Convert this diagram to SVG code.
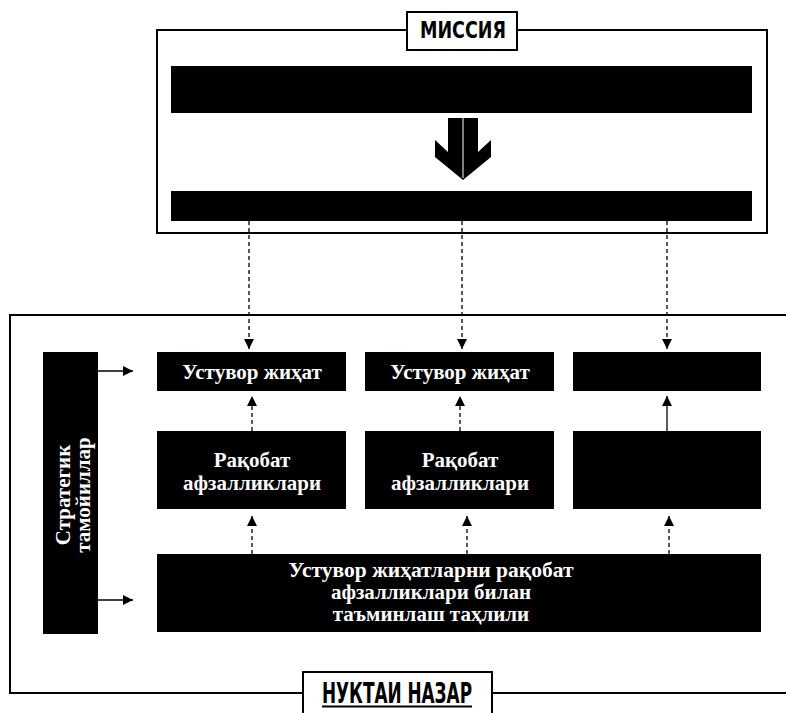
<svg xmlns="http://www.w3.org/2000/svg" width="786" height="713" viewBox="0 0 786 713">
<defs>
<marker id="ah" viewBox="0 0 10 10" refX="10" refY="5" markerWidth="10" markerHeight="10" markerUnits="userSpaceOnUse" orient="auto">
<path d="M0,0 L10,5 L0,10 z" fill="#000"/>
</marker>
<style>
.frame{fill:none;stroke:#000;stroke-width:2}
.lbl{fill:#fff;stroke:#000;stroke-width:2}
.box{fill:#000}
.t{fill:#fff;font-family:"Liberation Serif","DejaVu Serif",serif;font-size:21px;font-weight:bold;text-anchor:middle}
.h{fill:#000;font-family:"Liberation Sans Narrow","DejaVu Sans Condensed","Liberation Sans",sans-serif;font-weight:bold;text-anchor:middle}
.c{fill:none;stroke:#000;stroke-width:1.3;marker-end:url(#ah)}
.d{stroke-dasharray:4 3}
</style>
</defs>
<rect width="786" height="713" fill="#fff"/>

<g id="mission">
<rect class="frame" x="157" y="30" width="610" height="203"/>
<rect class="lbl" x="407" y="12" width="110" height="38"/>
<text class="h" x="463" y="38" font-size="23" textLength="86" lengthAdjust="spacingAndGlyphs">МИССИЯ</text>
<rect class="box" x="171" y="66" width="581" height="47"/>
<rect class="box" x="171" y="191" width="581" height="30"/>
<path d="M448,118 H478 V152 L491,140 V157 L463,180 L435,157 V140 L448,152 Z" fill="#000"/>
<line x1="463" y1="118" x2="463" y2="178" stroke="#fff" stroke-width="1"/>
</g>

<g id="viewpoint">
<path class="frame" d="M786,315 H10 V693 H303 M492,693 H786"/>
<rect class="lbl" x="303" y="672" width="189" height="46"/>
<text class="h" x="397" y="703" font-size="29" textLength="150" lengthAdjust="spacingAndGlyphs">НУКТАИ НАЗАР</text>
<line x1="322" y1="706.5" x2="472" y2="706.5" stroke="#000" stroke-width="2"/>
</g>

<g id="strategic">
<rect class="box" x="43" y="352" width="55" height="282"/>
<text class="t" transform="translate(70,495) rotate(-90)" font-size="19">Стратегик</text>
<text class="t" transform="translate(90,495) rotate(-90)" font-size="19">тамойиллар</text>
</g>

<g id="dir1">
<rect class="box" x="157" y="352" width="189" height="39"/>
<text class="t" x="252" y="379">Устувор жиҳат</text>
</g>
<g id="dir2">
<rect class="box" x="365" y="352" width="189" height="39"/>
<text class="t" x="460" y="379">Устувор жиҳат</text>
</g>
<g id="dir3">
<rect class="box" x="573" y="352" width="188" height="39"/>
</g>

<g id="adv1">
<rect class="box" x="157" y="431" width="189" height="78"/>
<text class="t" x="252" y="467">Рақобат</text>
<text class="t" x="252" y="490">афзалликлари</text>
</g>
<g id="adv2">
<rect class="box" x="365" y="431" width="189" height="78"/>
<text class="t" x="460" y="467">Рақобат</text>
<text class="t" x="460" y="490">афзалликлари</text>
</g>
<g id="adv3">
<rect class="box" x="573" y="431" width="188" height="78"/>
</g>

<g id="analysis">
<rect class="box" x="157" y="554" width="604" height="78"/>
<text class="t" x="431" y="577" font-size="19" textLength="285" lengthAdjust="spacingAndGlyphs">Устувор жиҳатларни рақобат</text>
<text class="t" x="431" y="599" font-size="19">афзалликлари билан</text>
<text class="t" x="431" y="621" font-size="19">таъминлаш таҳлили</text>
</g>

<g id="connectors">
<line class="c d" x1="249" y1="221" x2="249" y2="349"/>
<line class="c d" x1="462" y1="221" x2="462" y2="349"/>
<line class="c d" x1="667" y1="221" x2="667" y2="349"/>
<line class="c" x1="98" y1="371" x2="133" y2="371"/>
<line class="c" x1="98" y1="600" x2="133" y2="600"/>
<line class="c d" x1="252" y1="431" x2="252" y2="396"/>
<line class="c d" x1="460" y1="431" x2="460" y2="396"/>
<line class="c" x1="667" y1="431" x2="667" y2="396"/>
<line class="c d" x1="252" y1="554" x2="252" y2="516"/>
<line class="c d" x1="467" y1="554" x2="467" y2="516"/>
<line class="c d" x1="669" y1="554" x2="669" y2="516"/>
</g>
</svg>
